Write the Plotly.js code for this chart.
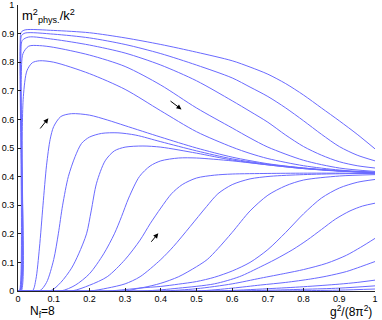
<!DOCTYPE html>
<html>
<head>
<meta charset="utf-8">
<script src="https://cdn.plot.ly/plotly-3.0.1.min.js"></script>
<style>
  html, body { margin: 0; padding: 0; background: #fff; }
  #chart { width: 382px; height: 320px; }
</style>
</head>
<body>
<div id="chart"></div>
<script>
// curves that start high (arrow points down-right)
const t1X = [0, 0.004, 0.006, 0.009, 0.02, 0.1, 0.2, 0.3, 0.4, 0.5, 0.6, 0.65, 0.7, 0.75, 0.8, 0.85, 0.9, 0.95, 1.0];
const t1Y = [0, 0, 0.86, 0.905, 0.913, 0.911, 0.903, 0.885, 0.862, 0.835, 0.805, 0.783, 0.758, 0.725, 0.685, 0.64, 0.595, 0.548, 0.497];
const t2X = [0, 0.005, 0.007, 0.01, 0.02, 0.1, 0.2, 0.3, 0.4, 0.5, 0.6, 0.65, 0.7, 0.75, 0.8, 0.85, 0.9, 0.95, 1.0];
const t2Y = [0, 0, 0.84, 0.893, 0.902, 0.898, 0.885, 0.862, 0.83, 0.79, 0.745, 0.713, 0.68, 0.64, 0.595, 0.548, 0.505, 0.475, 0.455];
const t3X = [0, 0.006, 0.008, 0.012, 0.03, 0.1, 0.2, 0.3, 0.4, 0.5, 0.6, 0.65, 0.7, 0.75, 0.8, 0.85, 0.9, 0.95, 1.0];
const t3Y = [0, 0, 0.82, 0.876, 0.888, 0.88, 0.86, 0.832, 0.79, 0.735, 0.665, 0.628, 0.59, 0.545, 0.505, 0.475, 0.452, 0.438, 0.43];
const t4X = [0, 0.007, 0.009, 0.014, 0.03, 0.06, 0.1, 0.2, 0.3, 0.4, 0.5, 0.6, 0.65, 0.7, 0.8, 0.9, 1.0];
const t4Y = [0, 0, 0.74, 0.83, 0.856, 0.858, 0.852, 0.825, 0.785, 0.72, 0.64, 0.57, 0.535, 0.503, 0.457, 0.43, 0.418];
const t5X = [0, 0.009, 0.011, 0.015, 0.025, 0.04, 0.06, 0.1, 0.2, 0.3, 0.4, 0.5, 0.6, 0.65, 0.7, 0.8, 0.9, 1.0];
const t5Y = [0, 0, 0.45, 0.68, 0.77, 0.798, 0.805, 0.8, 0.76, 0.705, 0.63, 0.557, 0.503, 0.481, 0.463, 0.438, 0.423, 0.415];

// curves that start at zero (arrows point up-right)
const b1X = [0, 0.04, 0.05, 0.06, 0.07, 0.08, 0.09, 0.1, 0.12, 0.15, 0.2, 0.25, 0.3, 0.4, 0.5, 0.6, 0.7, 0.8, 0.9, 1.0];
const b1Y = [0, 0, 0.04, 0.15, 0.3, 0.44, 0.53, 0.575, 0.61, 0.62, 0.615, 0.598, 0.578, 0.538, 0.5, 0.468, 0.445, 0.43, 0.42, 0.414];
const b2X = [0, 0.06, 0.08, 0.1, 0.113, 0.125, 0.141, 0.16, 0.178, 0.2, 0.234, 0.28, 0.33, 0.4, 0.5, 0.6, 0.7, 0.8, 0.9, 1.0];
const b2Y = [0, 0, 0.03, 0.11, 0.2, 0.3, 0.4, 0.47, 0.516, 0.538, 0.551, 0.553, 0.545, 0.522, 0.49, 0.462, 0.443, 0.43, 0.42, 0.414];
const b3X = [0, 0.09, 0.12, 0.15, 0.17, 0.192, 0.205, 0.22, 0.244, 0.27, 0.3, 0.35, 0.4, 0.5, 0.6, 0.7, 0.8, 0.9, 1.0];
const b3Y = [0, 0, 0.03, 0.08, 0.13, 0.2, 0.28, 0.377, 0.455, 0.49, 0.503, 0.507, 0.503, 0.482, 0.458, 0.441, 0.428, 0.419, 0.414];
const b4X = [0, 0.12, 0.16, 0.2, 0.24, 0.27, 0.29, 0.31, 0.34, 0.37, 0.4, 0.45, 0.5, 0.6, 0.7, 0.8, 0.9, 1.0];
const b4Y = [0, 0, 0.02, 0.06, 0.13, 0.2, 0.26, 0.325, 0.4, 0.437, 0.455, 0.465, 0.465, 0.455, 0.441, 0.428, 0.42, 0.414];
const b5X = [0, 0.15, 0.2, 0.25, 0.3, 0.342, 0.37, 0.4, 0.43, 0.46, 0.5, 0.55, 0.6, 0.7, 0.8, 0.9, 1.0];
const b5Y = [0, 0, 0.02, 0.05, 0.11, 0.178, 0.235, 0.29, 0.34, 0.372, 0.395, 0.405, 0.409, 0.411, 0.412, 0.412, 0.412];
const b6X = [0, 0.2, 0.25, 0.3, 0.342, 0.4, 0.435, 0.482, 0.528, 0.56, 0.6, 0.65, 0.706, 0.8, 0.9, 1.0];
const b6Y = [0, 0, 0.01, 0.025, 0.05, 0.11, 0.155, 0.225, 0.295, 0.34, 0.372, 0.392, 0.401, 0.407, 0.41, 0.411];
const b7X = [0, 0.25, 0.3, 0.35, 0.4, 0.45, 0.5, 0.53, 0.56, 0.6, 0.65, 0.7, 0.75, 0.8, 0.9, 1.0];
const b7Y = [0, 0, 0.005, 0.012, 0.027, 0.05, 0.085, 0.11, 0.148, 0.205, 0.28, 0.335, 0.368, 0.388, 0.402, 0.407];
const b8X = [0, 0.3, 0.342, 0.4, 0.45, 0.5, 0.55, 0.6, 0.65, 0.7, 0.75, 0.8, 0.85, 0.9, 0.95, 1.0];
const b8Y = [0, 0, 0.01, 0.016, 0.024, 0.033, 0.048, 0.07, 0.1, 0.145, 0.205, 0.27, 0.325, 0.36, 0.38, 0.39];
const b9X = [0, 0.35, 0.45, 0.55, 0.62, 0.68, 0.72, 0.77, 0.81, 0.85, 0.89, 0.93, 0.965, 1.0];
const b9Y = [0, 0, 0.01, 0.025, 0.05, 0.085, 0.11, 0.145, 0.178, 0.215, 0.252, 0.28, 0.297, 0.307];
const b10X = [0, 0.4, 0.5, 0.6, 0.68, 0.75, 0.8, 0.865, 0.92, 0.96, 1.0];
const b10Y = [0, 0, 0.008, 0.025, 0.045, 0.062, 0.075, 0.097, 0.125, 0.153, 0.184];
const b11X = [0, 0.5, 0.6, 0.68, 0.75, 0.82, 0.865, 0.92, 0.96, 1.0];
const b11Y = [0, 0, 0.01, 0.021, 0.03, 0.042, 0.052, 0.068, 0.085, 0.103];
const b12X = [0, 0.55, 0.7, 0.8, 0.9, 0.95, 1.0];
const b12Y = [0, 0, 0.008, 0.015, 0.024, 0.03, 0.038];
const b13X = [0, 0.6, 0.8, 0.9, 1.0];
const b13Y = [0, 0, 0.006, 0.01, 0.018];
const b14X = [0, 0.7, 0.9, 1.0];
const b14Y = [0, 0, 0.003, 0.007];

const xTicks = [0, 0.1, 0.2, 0.3, 0.4, 0.5, 0.6, 0.7, 0.8, 0.9, 1];
const xTickText = ["0", "0.1", "0.2", "0.3", "0.4", "0.5", "0.6", "0.7", "0.8", "0.9", "1"];
const yTicks = [0, 0.1, 0.2, 0.3, 0.4, 0.5, 0.6, 0.7, 0.8, 0.9, 1];
const yTickText = ["0", "0.1", "0.2", "0.3", "0.4", "0.5", "0.6", "0.7", "0.8", "0.9", "1"];

const curves = [
  [t1X, t1Y], [t2X, t2Y], [t3X, t3Y], [t4X, t4Y], [t5X, t5Y],
  [b1X, b1Y], [b2X, b2Y], [b3X, b3Y], [b4X, b4Y], [b5X, b5Y], [b6X, b6Y], [b7X, b7Y],
  [b8X, b8Y], [b9X, b9Y], [b10X, b10Y], [b11X, b11Y], [b12X, b12Y], [b13X, b13Y], [b14X, b14Y],
];

const lineColor = "#6a6aff";
const data = curves.map(([x, y]) => ({
  x: x,
  y: y,
  type: "scatter",
  mode: "lines",
  line: { color: lineColor, width: 1, shape: "spline", smoothing: 0.8 },
  hoverinfo: "skip",
}));

const fontFamily = "Liberation Sans, Arial, sans-serif";

// arrows: tail -> head, data coordinates
function arrow(x0, y0, x1, y1) {
  return {
    x: x1, y: y1, ax: x0, ay: y0,
    xref: "x", yref: "y", axref: "x", ayref: "y",
    text: "", showarrow: true,
    arrowhead: 2, arrowsize: 1, arrowwidth: 1, arrowcolor: "#000",
  };
}

const layout = {
  width: 382,
  height: 320,
  margin: { l: 18, r: 7, t: 5, b: 29 },
  paper_bgcolor: "#fff",
  plot_bgcolor: "#fff",
  showlegend: false,
  font: { family: fontFamily, color: "#000", size: 9 },
  xaxis: {
    range: [0, 1],
    tickvals: xTicks,
    ticktext: xTickText,
    ticks: "inside",
    ticklen: 3,
    tickcolor: "#222",
    showline: true,
    linecolor: "#222",
    linewidth: 1,
    mirror: false,
    showgrid: false,
    zeroline: false,
    tickfont: { size: 9 },
    ticklabelstandoff: -1,
  },
  yaxis: {
    range: [0, 1],
    tickvals: yTicks,
    ticktext: yTickText,
    ticks: "inside",
    ticklen: 3,
    tickcolor: "#222",
    showline: true,
    linecolor: "#222",
    linewidth: 1,
    mirror: false,
    showgrid: false,
    zeroline: false,
    tickfont: { size: 9 },
    ticklabelstandoff: 1,
  },
  annotations: [
    {
      xref: "paper", yref: "paper", x: 0.006, y: 1.0,
      xanchor: "left", yanchor: "top", showarrow: false,
      text: "m<sup>2</sup><sub>phys.</sub>/k<sup>2</sup>", font: { size: 13 },
    },
    {
      xref: "paper", yref: "paper", x: 0.03, y: -0.104,
      xanchor: "left", yanchor: "bottom", showarrow: false, borderpad: 0,
      text: "N<sub>f</sub>=8", font: { size: 12 },
    },
    {
      xref: "paper", yref: "paper", x: 0.995, y: -0.101,
      xanchor: "right", yanchor: "bottom", showarrow: false, borderpad: 0,
      text: "g<sup>2</sup>/(8π<sup>2</sup>)", font: { size: 12 },
    },
    arrow(0.059, 0.563, 0.085, 0.604),
    arrow(0.423, 0.668, 0.458, 0.635),
    arrow(0.37, 0.167, 0.393, 0.202),
  ],
};

Plotly.newPlot("chart", data, layout, { displayModeBar: false, staticPlot: true });
</script>
</body>
</html>
